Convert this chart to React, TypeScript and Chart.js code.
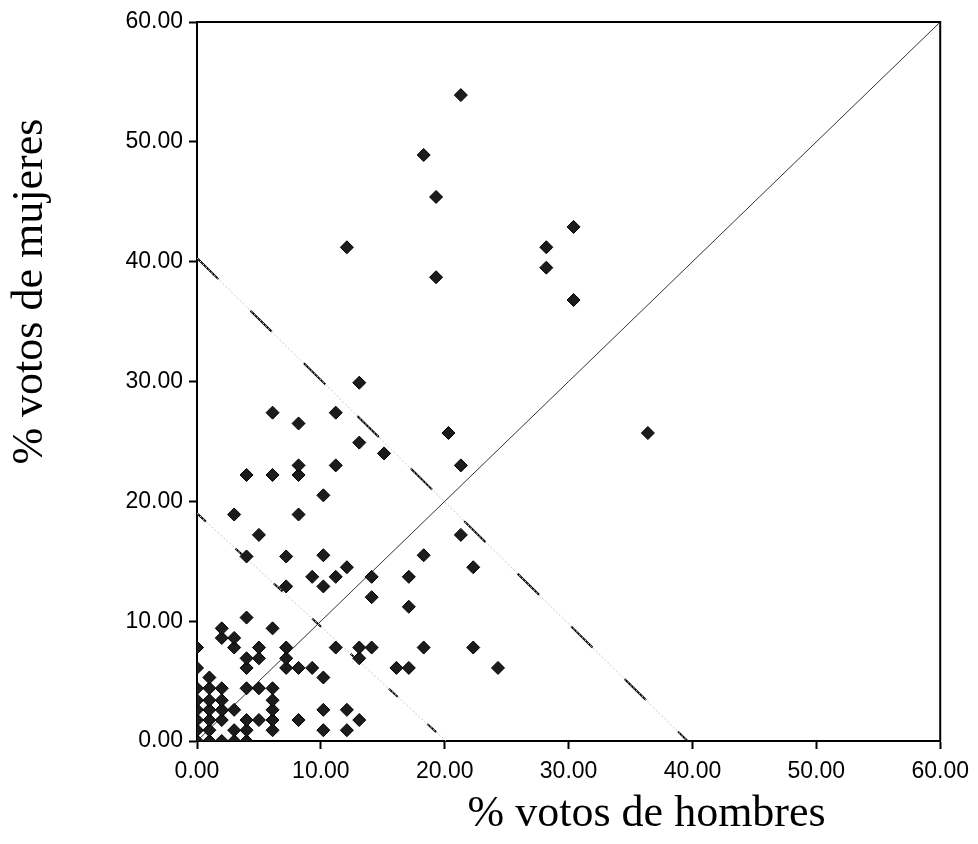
import React, { useEffect, useRef } from "react";
import { Chart, registerables } from "chart.js";

Chart.register(...registerables);

// % votos de hombres (x) and % votos de mujeres (y), one entry per observation
const menPct: number[] = [
  0, 0, 0, 0, 0, 0, 0, 0,
  1, 1, 1, 1, 1, 1, 1,
  2, 2, 2, 2, 2, 2, 2,
  3, 3, 3, 3, 3, 3,
  4, 4, 4, 4, 4, 4, 4, 4, 4,
  5, 5, 5, 5, 5,
  6.1, 6.1, 6.1, 6.1, 6.1, 6.1, 6.1, 6.1,
  7.2, 7.2, 7.2, 7.2, 7.2,
  8.2, 8.2, 8.2, 8.2, 8.2, 8.2,
  9.3, 9.3,
  10.2, 10.2, 10.2, 10.2, 10.2, 10.2,
  11.2, 11.2, 11.2, 11.2,
  12.1, 12.1, 12.1, 12.1,
  13.1, 13.1, 13.1, 13.1, 13.1,
  14.1, 14.1, 14.1,
  15.1,
  16.1,
  17.1, 17.1, 17.1,
  18.3, 18.3, 18.3,
  19.3, 19.3,
  20.3,
  21.3, 21.3, 21.3,
  22.3, 22.3,
  24.3,
  28.2, 28.2,
  30.4, 30.4,
  36.4,
];
const womenPct: number[] = [
  0, 0.9, 1.75, 2.6, 3.4, 4.4, 6.1, 7.8,
  0, 0.9, 1.75, 2.6, 3.4, 4.4, 5.3,
  0, 1.75, 2.6, 3.4, 4.4, 8.6, 9.4,
  0, 0.9, 2.6, 7.8, 8.6, 18.9,
  0, 0.9, 1.75, 4.4, 6.1, 6.9, 10.3, 15.4, 22.2,
  1.75, 4.4, 6.9, 7.8, 17.2,
  0.9, 1.75, 2.6, 3.4, 4.4, 9.4, 22.2, 27.4,
  6.1, 6.9, 7.8, 12.9, 15.4,
  1.75, 6.1, 18.9, 22.2, 23.0, 26.5,
  6.1, 13.7,
  0.9, 2.6, 5.3, 12.9, 15.5, 20.5,
  7.8, 13.7, 23.0, 27.4,
  0.9, 2.6, 14.5, 41.2,
  1.75, 6.9, 7.8, 24.9, 29.9,
  7.8, 12.0, 13.7,
  24.0,
  6.1,
  6.1, 11.2, 13.7,
  7.8, 15.5, 48.9,
  38.7, 45.4,
  25.7,
  17.2, 23.0, 53.9,
  7.8, 14.5,
  6.1,
  39.5, 41.2,
  36.8, 42.9,
  25.7,
];

// reference lines (endpoints in data units)
const diagonalX = [0, 60];
const diagonalY = [0, 60];
const outerLineX = [0, 39.6];
const outerLineY = [40.3, 0];
const innerLineX = [0, 20.1];
const innerLineY = [19.0, 0];

const axisMin = 0;
const axisMax = 60;
const axisStep = 10;

const xTitle = "% votos de hombres";
const yTitle = "% votos de mujeres";

const toPoints = (xs: number[], ys: number[]) => xs.map((x, i) => ({ x, y: ys[i] }));

export default function App() {
  const canvasRef = useRef<HTMLCanvasElement | null>(null);

  useEffect(() => {
    document.body.style.margin = "0";
    const canvas = canvasRef.current;
    if (!canvas) return;

    const frame = {
      id: "frameAndTitles",
      afterDatasetsDraw(chart: any) {
        const { ctx, chartArea } = chart;
        ctx.save();
        ctx.strokeStyle = "#000";
        ctx.lineWidth = 2;
        ctx.beginPath();
        ctx.moveTo(chartArea.left, chartArea.top);
        ctx.lineTo(chartArea.right, chartArea.top);
        ctx.lineTo(chartArea.right, chartArea.bottom);
        ctx.stroke();
        ctx.restore();
      },
      afterDraw(chart: any) {
        const { ctx, chartArea } = chart;
        ctx.save();
        ctx.fillStyle = "#000";
        ctx.font = '44px "Liberation Serif", "Times New Roman", serif';
        ctx.textAlign = "center";
        ctx.textBaseline = "middle";
        const w = chartArea.right - chartArea.left;
        const h = chartArea.bottom - chartArea.top;
        ctx.fillText(xTitle, chartArea.left + w * 0.605, chartArea.bottom + 73);
        ctx.translate(30, chartArea.top + h * 0.375);
        ctx.rotate(-Math.PI / 2);
        ctx.fillText(yTitle, 0, 0);
        ctx.restore();
      },
    };

    const tickFont = { family: '"Liberation Sans", Arial, sans-serif', size: 23 };

    const chart = new Chart(canvas, {
      type: "scatter",
      data: {
        datasets: [
          {
            label: "puntos",
            data: toPoints(menPct, womenPct),
            pointStyle: "rectRot",
            pointRadius: 6.5,
            pointBackgroundColor: "#1c1c1c",
            pointBorderColor: "#000",
            pointBorderWidth: 1,
            showLine: false,
            order: 0,
          },
          {
            label: "diagonal",
            data: toPoints(diagonalX, diagonalY),
            showLine: true,
            borderColor: "#333",
            borderWidth: 1,
            pointRadius: 0,
            order: 1,
          },
          {
            label: "outer",
            data: toPoints(outerLineX, outerLineY),
            showLine: true,
            borderColor: "#c8c8c8",
            borderWidth: 1,
            borderDash: [2, 2],
            pointRadius: 0,
            order: 2,
          },
          {
            label: "outerDash",
            data: toPoints(outerLineX, outerLineY),
            showLine: true,
            borderColor: "#000",
            borderWidth: 2,
            borderDash: [30, 45],
            pointRadius: 0,
            order: 2,
          },
          {
            label: "inner",
            data: toPoints(innerLineX, innerLineY),
            showLine: true,
            borderColor: "#c8c8c8",
            borderWidth: 1,
            borderDash: [2, 2],
            pointRadius: 0,
            order: 2,
          },
          {
            label: "innerDash",
            data: toPoints(innerLineX, innerLineY),
            showLine: true,
            borderColor: "#000",
            borderWidth: 2,
            borderDash: [12, 40],
            pointRadius: 0,
            order: 2,
          },
        ],
      },
      options: {
        responsive: false,
        animation: false,
        devicePixelRatio: 1,
        layout: { padding: { left: 0, top: 22, right: 37, bottom: 0 } },
        plugins: {
          legend: { display: false },
          tooltip: { enabled: false },
          title: { display: false },
        },
        scales: {
          x: {
            type: "linear",
            min: axisMin,
            max: axisMax,
            afterFit: (s: any) => {
              s.height = 103;
            },
            ticks: {
              stepSize: axisStep,
              color: "#000",
              font: tickFont,
              padding: 9,
              maxRotation: 0,
              callback: (v: any) => Number(v).toFixed(2),
            },
            grid: {
              drawOnChartArea: false,
              drawTicks: true,
              tickLength: 8,
              tickWidth: 2,
              color: "#000",
            },
            border: { display: true, color: "#000", width: 2 },
          },
          y: {
            type: "linear",
            min: axisMin,
            max: axisMax,
            afterFit: (s: any) => {
              s.width = 197;
            },
            ticks: {
              stepSize: axisStep,
              color: "#000",
              font: tickFont,
              padding: 6,
              callback: (v: any) => Number(v).toFixed(2),
            },
            grid: {
              drawOnChartArea: false,
              drawTicks: true,
              tickLength: 8,
              tickWidth: 2,
              color: "#000",
            },
            border: { display: true, color: "#000", width: 2 },
          },
        },
      },
      plugins: [frame],
    } as any);

    return () => chart.destroy();
  }, []);

  return (
    <div style={{ width: 978, height: 844, background: "#fff" }}>
      <canvas ref={canvasRef} width={978} height={844} style={{ width: 978, height: 844, display: "block" }} />
    </div>
  );
}
